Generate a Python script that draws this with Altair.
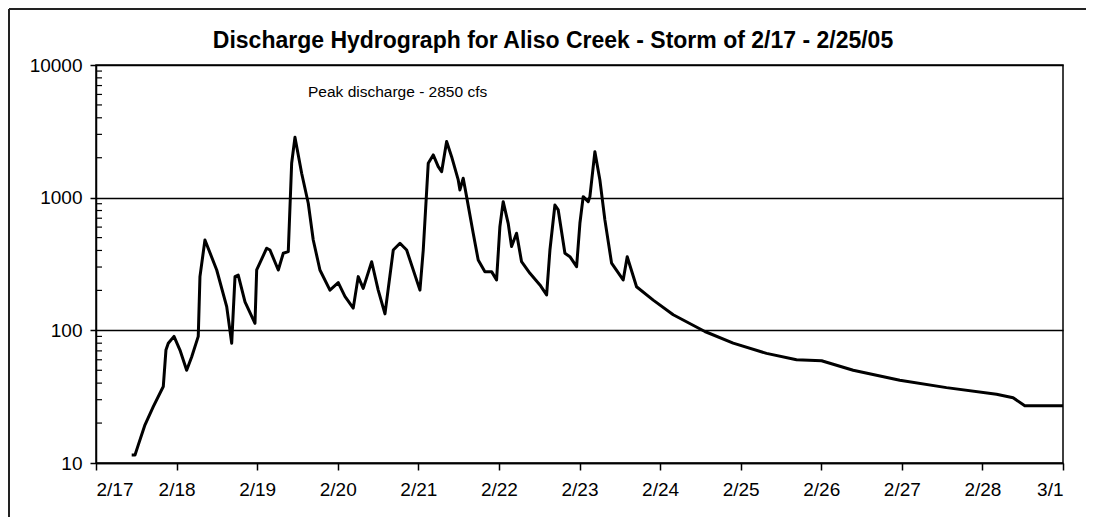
import altair as alt
import pandas as pd

# --- data ---
day_offset = [0.443, 0.484, 0.525, 0.608, 0.711, 0.835, 0.868, 0.897, 0.968, 1.042,
              1.125, 1.187, 1.269, 1.290, 1.352, 1.498, 1.622, 1.684, 1.725, 1.765,
              1.849, 1.973, 1.994, 2.118, 2.159, 2.262, 2.324, 2.386, 2.428, 2.469,
              2.552, 2.634, 2.696, 2.779, 2.903, 3.006, 3.089, 3.192, 3.254, 3.316,
              3.421, 3.502, 3.586, 3.689, 3.772, 3.855, 4.020, 4.061, 4.123, 4.185,
              4.247, 4.289, 4.351, 4.413, 4.495, 4.516, 4.557, 4.599, 4.681, 4.743,
              4.826, 4.909, 4.971, 5.012, 5.053, 5.115, 5.157, 5.219, 5.281, 5.385,
              5.509, 5.592, 5.633, 5.695, 5.736, 5.819, 5.881, 5.964, 6.005, 6.046,
              6.108, 6.129, 6.191, 6.253, 6.315, 6.398, 6.542, 6.592, 6.708, 6.915,
              7.163, 7.556, 7.907, 8.321, 8.693, 9.004, 9.396, 9.975, 10.554, 11.175,
              11.381, 11.526, 12.0]
discharge = [11.5, 11.5, 13.7, 19.4, 26.6, 37.7, 71, 80, 90, 71,
             50, 63, 90, 254, 480, 285, 151, 80, 254, 261,
             164, 113, 285, 416, 403, 285, 381, 392, 1816, 2850,
             1528, 908, 480, 285, 201, 229, 180, 147, 254, 207,
             329, 201, 133, 403, 453, 403, 201, 403, 1816, 2100,
             1714, 1570, 2650, 2036, 1360, 1143, 1400, 1018, 539, 339,
             277, 277, 240, 604, 933, 641, 428, 539, 329, 269,
             220, 185, 403, 881, 808, 381, 359, 302, 641, 1018,
             933, 1018, 2222, 1360, 680, 321, 240, 359, 213, 169,
             131, 98, 80, 67, 60, 59, 50, 42, 37, 33,
             31, 27, 27]

x_tick_values = list(range(13))
x_tick_labels = ["2/17", "2/18", "2/19", "2/20", "2/21", "2/22", "2/23",
                 "2/24", "2/25", "2/26", "2/27", "2/28", "3/1"]
y_tick_values = [10, 100, 1000, 10000]
y_minor_ticks = [m * d for d in (10, 100, 1000) for m in range(2, 10)]

title_text = "Discharge Hydrograph for Aliso Creek - Storm of 2/17 - 2/25/05"
note_text = "Peak discharge - 2850 cfs"

W, H = 967, 398
FONT = "Liberation Sans"

df = pd.DataFrame({"day": day_offset, "cfs": discharge})
minor_df = pd.DataFrame({"cfs": y_minor_ticks})

label_expr = "[" + ",".join(f"'{s}'" for s in x_tick_labels) + "][datum.value]"

yscale = alt.Scale(type="log", domain=[10, 10000], nice=False)
xscale = alt.Scale(domain=[0, 12], nice=False, zero=False)

yaxis = alt.Axis(values=y_tick_values, format="d", title=None,
                 grid=True, gridColor="black", gridWidth=1.3,
                 tickSize=6, tickColor="black", tickWidth=1.5,
                 domainColor="black", domainWidth=1.5, labelColor="black",
                 labelFont=FONT, labelFontSize=19, labelPadding=8)

line = alt.Chart(df).mark_line(color="black", strokeWidth=3, strokeJoin="round").encode(
    x=alt.X("day:Q", scale=xscale,
            axis=alt.Axis(values=x_tick_values, labelExpr=label_expr, title=None,
                          grid=False, tickSize=7, tickColor="black", tickWidth=1.5,
                          domainColor="black", domainWidth=1.5, labelColor="black",
                          labelFont=FONT, labelFontSize=19, labelPadding=10)),
    y=alt.Y("cfs:Q", scale=yscale, axis=yaxis),
)

minor = alt.Chart(minor_df).mark_rule(color="black", strokeWidth=1.2).encode(
    y=alt.Y("cfs:Q", scale=yscale, axis=yaxis),
    x=alt.value(0), x2=alt.value(6),
)

title_mark = alt.Chart(pd.DataFrame({"t": [title_text]})).mark_text(
    font=FONT, fontSize=23, fontWeight="bold", color="black",
    align="center", baseline="alphabetic").encode(
    text="t:N", x=alt.value(457), y=alt.value(-17))

note_mark = alt.Chart(pd.DataFrame({"t": [note_text]})).mark_text(
    font=FONT, fontSize=15.5, color="black",
    align="left", baseline="alphabetic").encode(
    text="t:N", x=alt.value(212), y=alt.value(32))

frame_left = alt.Chart(pd.DataFrame({"k": [0]})).mark_rule(color="#222", strokeWidth=2).encode(
    x=alt.value(-87), y=alt.value(-56), y2=alt.value(H + 60))
frame_top = alt.Chart(pd.DataFrame({"k": [0]})).mark_rule(color="#222", strokeWidth=2).encode(
    x=alt.value(-87), x2=alt.value(W + 30), y=alt.value(-56))

chart = alt.layer(minor, line, title_mark, note_mark, frame_left, frame_top).properties(
    width=W, height=H,
    autosize=alt.AutoSizeParams(type="none"),
    padding={"left": 88, "top": 57, "right": 23, "bottom": 54},
    background="white",
).configure_view(stroke="black", strokeWidth=1.5)

chart.save("out.html", embed_options={"renderer": "svg", "actions": False})
